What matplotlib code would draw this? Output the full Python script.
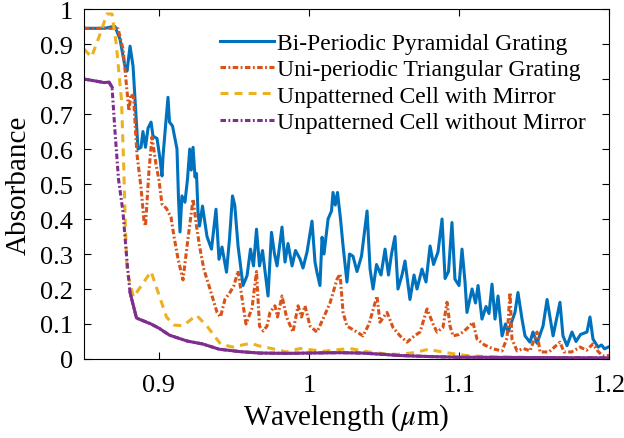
import matplotlib
matplotlib.use("Agg")
from matplotlib import pyplot as plt

plt.rcParams['font.family'] = ['Liberation Serif', 'DejaVu Serif']
plt.rcParams['mathtext.fontset'] = 'stix'

# bi-periodic pyramidal grating
wl_bi = [0.850, 0.855, 0.860, 0.865, 0.868, 0.8707, 0.874, 0.8773, 0.8787, 0.8807, 0.8827, 0.8847, 0.886, 0.888,
         0.8893, 0.891, 0.8927, 0.8947, 0.896, 0.8987, 0.9007, 0.902, 0.9027, 0.904, 0.906, 0.907, 0.909, 0.912,
         0.913, 0.914, 0.9153, 0.9173, 0.919, 0.9205, 0.9215, 0.9227, 0.924, 0.925, 0.926, 0.927, 0.929, 0.932,
         0.935, 0.938, 0.940, 0.942, 0.945, 0.947, 0.949, 0.9505, 0.9527, 0.956, 0.9587, 0.961, 0.963, 0.965,
         0.967, 0.969, 0.9727, 0.975, 0.977, 0.9787, 0.982, 0.984, 0.986, 0.9887, 0.991, 0.994, 0.996, 0.9987,
         1.002, 1.004, 1.0053, 1.0073, 1.0087, 1.010, 1.0127, 1.015, 1.016, 1.0175, 1.019, 1.021, 1.0227, 1.0253,
         1.027, 1.0293, 1.032, 1.035, 1.0387, 1.0407, 1.0427, 1.045, 1.048, 1.0507, 1.053, 1.055, 1.0573, 1.0593,
         1.062, 1.064, 1.0673, 1.070, 1.072, 1.0753, 1.078, 1.0807, 1.083, 1.086, 1.0887, 1.0907, 1.093, 1.0953,
         1.0973, 1.100, 1.102, 1.104, 1.1053, 1.1087, 1.111, 1.1127, 1.1153, 1.118, 1.120, 1.122, 1.124, 1.126,
         1.1287, 1.131, 1.1327, 1.1373, 1.1393, 1.142, 1.144, 1.1473, 1.1493, 1.152, 1.156, 1.1587, 1.1627,
         1.1673, 1.1693, 1.172, 1.1753, 1.178, 1.181, 1.1853, 1.1873, 1.1893, 1.1927, 1.195, 1.197, 1.200]
ab_bi = [0.945, 0.945, 0.945, 0.946, 0.949, 0.950, 0.914, 0.837, 0.823, 0.894, 0.837, 0.694, 0.600, 0.605,
         0.650, 0.605, 0.660, 0.677, 0.637, 0.630, 0.571, 0.523, 0.580, 0.648, 0.748, 0.677, 0.666, 0.600,
         0.460, 0.363, 0.466, 0.448, 0.514, 0.600, 0.540, 0.605, 0.520, 0.530, 0.420, 0.380, 0.437, 0.350,
         0.314, 0.428, 0.285, 0.320, 0.248, 0.343, 0.466, 0.440, 0.323, 0.210, 0.238, 0.314, 0.266, 0.371,
         0.266, 0.310, 0.180, 0.362, 0.300, 0.266, 0.377, 0.277, 0.330, 0.266, 0.310, 0.286, 0.260, 0.306,
         0.394, 0.277, 0.248, 0.210, 0.348, 0.300, 0.400, 0.423, 0.476, 0.440, 0.476, 0.400, 0.323, 0.220,
         0.300, 0.294, 0.250, 0.294, 0.423, 0.257, 0.200, 0.270, 0.240, 0.314, 0.240, 0.300, 0.350, 0.200,
         0.240, 0.280, 0.170, 0.240, 0.200, 0.257, 0.220, 0.323, 0.270, 0.306, 0.400, 0.230, 0.250, 0.390,
         0.228, 0.210, 0.314, 0.220, 0.133, 0.200, 0.160, 0.210, 0.114, 0.150, 0.130, 0.214, 0.114, 0.180,
         0.066, 0.100, 0.077, 0.133, 0.190, 0.114, 0.066, 0.048, 0.077, 0.045, 0.094, 0.170, 0.066,
         0.162, 0.066, 0.038, 0.077, 0.050, 0.070, 0.077, 0.120, 0.057, 0.034, 0.040, 0.029, 0.035]

# uni-periodic triangular grating
wl_uni = [0.850, 0.860, 0.870, 0.8727, 0.876, 0.8787, 0.880, 0.8813, 0.883, 0.8853, 0.888, 0.890, 0.891,
          0.8933, 0.8953, 0.898, 0.900, 0.902, 0.905, 0.908, 0.910, 0.9127, 0.916, 0.919, 0.9227, 0.925,
          0.927, 0.930, 0.934, 0.9387, 0.941, 0.944, 0.9473, 0.950, 0.9527, 0.9553, 0.958, 0.962, 0.965,
          0.967, 0.9695, 0.972, 0.974, 0.9773, 0.979, 0.982, 0.985, 0.9893, 0.9927, 0.995, 0.9973, 1.0007,
          1.0053, 1.0093, 1.014, 1.0187, 1.0207, 1.0227, 1.0253, 1.032, 1.036, 1.040, 1.0453, 1.0473, 1.052,
          1.056, 1.0607, 1.0653, 1.070, 1.074, 1.0787, 1.0827, 1.0853, 1.0893, 1.092, 1.094, 1.096, 1.100,
          1.1027, 1.106, 1.1093, 1.112, 1.117, 1.1227, 1.1287, 1.132, 1.134, 1.1353, 1.1387, 1.143, 1.1473,
          1.152, 1.154, 1.160, 1.1673, 1.170, 1.175, 1.1807, 1.185, 1.1893, 1.193, 1.196, 1.200]
ab_uni = [0.945, 0.945, 0.945, 0.944, 0.886, 0.765, 0.709, 0.757, 0.748, 0.586, 0.490, 0.395, 0.380,
          0.537, 0.634, 0.557, 0.510, 0.443, 0.430, 0.405, 0.350, 0.286, 0.226, 0.333, 0.457, 0.380,
          0.323, 0.255, 0.200, 0.133, 0.120, 0.171, 0.190, 0.210, 0.252, 0.175, 0.100, 0.145, 0.250,
          0.094, 0.080, 0.094, 0.133, 0.152, 0.120, 0.180, 0.120, 0.077, 0.152, 0.120, 0.152, 0.094,
          0.077, 0.114, 0.160, 0.228, 0.243, 0.133, 0.094, 0.077, 0.066, 0.100, 0.180, 0.105, 0.133,
          0.090, 0.066, 0.048, 0.065, 0.077, 0.143, 0.100, 0.077, 0.090, 0.162, 0.094, 0.066, 0.070,
          0.077, 0.090, 0.105, 0.057, 0.040, 0.029, 0.023, 0.060, 0.190, 0.057, 0.023, 0.030, 0.023,
          0.077, 0.020, 0.020, 0.048, 0.020, 0.020, 0.034, 0.025, 0.043, 0.020, 0.009, 0.010]

# unpatterned cell with mirror
wl_mir = [0.850, 0.855, 0.860, 0.8653, 0.8687, 0.8715, 0.875, 0.8765, 0.8775, 0.8787, 0.883, 0.8947, 0.905,
          0.910, 0.916, 0.925, 0.932, 0.941, 0.949, 0.961, 0.967, 0.975, 0.985, 0.994, 1.010, 1.027, 1.040,
          1.050, 1.059, 1.070, 1.080, 1.085, 1.096, 1.105, 1.120, 1.140, 1.160, 1.180, 1.200]
ab_mir = [0.886, 0.863, 0.920, 0.986, 0.986, 0.900, 0.740, 0.550, 0.390, 0.250, 0.177, 0.250, 0.120,
          0.097, 0.095, 0.125, 0.094, 0.043, 0.034, 0.045, 0.037, 0.030, 0.020, 0.030, 0.022, 0.030, 0.020,
          0.015, 0.013, 0.018, 0.028, 0.023, 0.015, 0.010, 0.006, 0.005, 0.004, 0.004, 0.003]

# unpatterned cell without mirror
wl_nom = [0.850, 0.857, 0.8633, 0.8667, 0.8687, 0.8707, 0.873, 0.876, 0.8787, 0.8807, 0.885, 0.8947, 0.900,
          0.907, 0.914, 0.919, 0.929, 0.940, 0.954, 0.967, 0.985, 1.000, 1.020, 1.035, 1.050, 1.060, 1.080,
          1.100, 1.150, 1.200]
ab_nom = [0.800, 0.795, 0.790, 0.791, 0.777, 0.648, 0.514, 0.420, 0.277, 0.190, 0.117, 0.100, 0.088,
          0.068, 0.058, 0.051, 0.043, 0.028, 0.021, 0.017, 0.016, 0.017, 0.018, 0.017, 0.013, 0.010, 0.007,
          0.005, 0.004, 0.003]

c_bi = '#0072BD'
c_uni = '#D95319'
c_mir = '#EDB120'
c_nom = '#7E2F8E'

# matlab-like short dash patterns (in units of linewidth)
dashdot = (0, (1.8, 0.8, 0.6, 0.8))
dashed = (0, (2.6, 2.0))

fig = plt.figure(figsize=(6.24, 4.39), dpi=100)
ax = fig.add_axes([0.1346, 0.18, 0.8414, 0.797])

ax.plot(wl_bi, ab_bi, color=c_bi, lw=2.2, label='Bi-Periodic Pyramidal Grating')
ax.plot(wl_uni, ab_uni, color=c_uni, lw=2.2, ls=dashdot, label='Uni-periodic Triangular Grating')
ax.plot(wl_mir, ab_mir, color=c_mir, lw=2.2, ls=dashed, label='Unpatterned Cell with Mirror')
ax.plot(wl_nom, ab_nom, color=c_nom, lw=2.2, ls=dashdot, label='Unpatterned Cell without Mirror')
# flat parts of the purple curve come out solid in the original
first = [i for i, w in enumerate(wl_nom) if w <= 0.8687]
last = [i for i, w in enumerate(wl_nom) if w >= 0.8807]
ax.plot([wl_nom[i] for i in first], [ab_nom[i] for i in first], color=c_nom, lw=2.2)
ax.plot([wl_nom[i] for i in last], [ab_nom[i] for i in last], color=c_nom, lw=2.2)

ax.set_xlim(0.85, 1.2)
ax.set_ylim(0, 1)
ax.set_xticks([0.9, 1.0, 1.1, 1.2])
ax.set_xticklabels(['0.9', '1', '1.1', '1.2'])
yt = [i / 10 for i in range(11)]
ax.set_yticks(yt)
ax.set_yticklabels(['0'] + ['%.1f' % v for v in yt[1:-1]] + ['1'])
ax.tick_params(direction='in', top=True, right=True, labelsize=19, length=5, width=0.8)
ax.tick_params(axis='x', pad=11)
ax.tick_params(axis='y', pad=8)
for s in ax.spines.values():
    s.set_linewidth(0.8)

ax.set_xlabel('Wavelength ($\\mu$m)', fontsize=21, labelpad=4)
ax.set_ylabel('Absorbance', fontsize=21, labelpad=6)

ax.legend(loc='upper right', frameon=False, fontsize=17, handlelength=2.3, handletextpad=0.1,
          labelspacing=0.2, borderaxespad=0.6)

fig.savefig('out.png', dpi=100)
